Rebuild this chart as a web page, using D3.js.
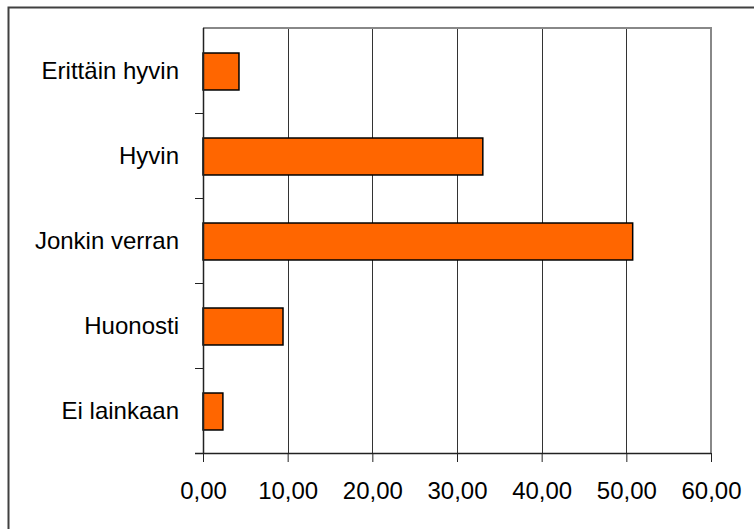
<!DOCTYPE html>
<html>
<head>
<meta charset="utf-8">
<script src="https://cdn.jsdelivr.net/npm/d3@7"></script>
<style>
html,body{margin:0;padding:0;background:#fff;}
svg{display:block;font-family:"Liberation Sans",Arial,sans-serif;}
</style>
</head>
<body>
<svg id="chart" width="754" height="529"></svg>
<script>
const categories = ["Erittäin hyvin", "Hyvin", "Jonkin verran", "Huonosti", "Ei lainkaan"];
const values = [4.25, 33.05, 50.75, 9.45, 2.35];
const xTicks = [0, 10, 20, 30, 40, 50, 60];

const svg = d3.select("#chart");
const W = 754, H = 529;
const plot = {left: 203, right: 711, top: 28, bottom: 453};
const FS = 24;

// outer chart border
svg.append("rect").attr("x", 8.5).attr("y", 7.5).attr("width", W).attr("height", H)
  .attr("fill", "#fff").attr("stroke", "#404040").attr("stroke-width", 2);

const x = d3.scaleLinear().domain([0, 60]).range([plot.left, plot.right]);
const y = d3.scaleBand().domain(categories).range([plot.top, plot.bottom]).padding(0);

// gridlines
svg.append("g").selectAll("line").data(xTicks.slice(1, -1)).join("line")
  .attr("x1", d => Math.round(x(d)) + 0.5).attr("x2", d => Math.round(x(d)) + 0.5)
  .attr("y1", plot.top).attr("y2", plot.bottom)
  .attr("stroke", "#333").attr("stroke-width", 1);

// plot area border (top & right)
svg.append("path")
  .attr("d", `M${plot.left},${plot.top}H${plot.right}V${plot.bottom}`)
  .attr("fill", "none").attr("stroke", "#888").attr("stroke-width", 2);

// bars
const barFrac = 0.435;
svg.append("g").selectAll("rect").data(categories).join("rect")
  .attr("x", x(0))
  .attr("y", d => y(d) + y.bandwidth() * (1 - barFrac) / 2 + 1)
  .attr("width", (d, i) => x(values[i]) - x(0))
  .attr("height", y.bandwidth() * barFrac)
  .attr("fill", "#FF6600").attr("stroke", "#000").attr("stroke-width", 1.5);

// x axis
const xAxis = d3.axisBottom(x).tickValues(xTicks).tickSize(9).tickPadding(20)
  .tickFormat(d => d3.format(".2f")(d).replace(".", ","));
const gx = svg.append("g").attr("transform", `translate(0,${plot.bottom})`).call(xAxis);
gx.select(".domain").attr("stroke", "#222").attr("stroke-width", 1.5)
  .attr("d", `M${plot.left - 8},0.5H${plot.right}`);
gx.selectAll(".tick line").attr("stroke", "#222").attr("stroke-width", 1);
gx.selectAll(".tick text").style("font-size", FS + "px").attr("fill", "#000")
  .style("font-family", "'Liberation Sans', Arial, sans-serif");

// y axis
const gy = svg.append("g");
gy.append("line").attr("x1", plot.left + 0.5).attr("x2", plot.left + 0.5)
  .attr("y1", plot.top).attr("y2", plot.bottom).attr("stroke", "#222").attr("stroke-width", 1.5);
const bounds = categories.map(d => y(d)).concat([plot.bottom]).slice(1);
gy.selectAll("line.tk").data(bounds).join("line").attr("class", "tk")
  .attr("x1", plot.left - 8).attr("x2", plot.left)
  .attr("y1", d => Math.round(d) + 0.5).attr("y2", d => Math.round(d) + 0.5)
  .attr("stroke", "#222").attr("stroke-width", 1);
gy.selectAll("text").data(categories).join("text")
  .attr("x", 179).attr("y", d => y(d) + y.bandwidth() / 2 + 2)
  .attr("text-anchor", "end").attr("dominant-baseline", "middle")
  .style("font-size", FS + "px").attr("fill", "#000")
  .text(d => d);
</script>
</body>
</html>
